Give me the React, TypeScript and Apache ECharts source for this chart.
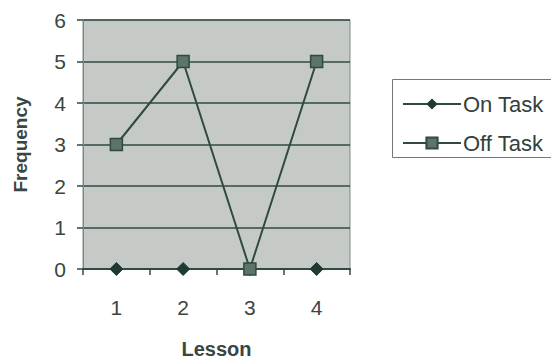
import React, { useEffect, useRef } from "react";
import * as echarts from "echarts";

const lessons = ["1", "2", "3", "4"];
const onTask = [0, 0, 0, 0];
const offTask = [3, 5, 0, 5];
const seriesNames = ["On Task", "Off Task"];

export default function App() {
  const ref = useRef<HTMLDivElement>(null);
  useEffect(() => {
    const chart = echarts.init(ref.current!, null, { renderer: "svg" });
    const dark = "#2f4a41";
    const font = "Liberation Sans, Arial, sans-serif";
    chart.setOption({
      animation: false,
      backgroundColor: "#ffffff",
      grid: { left: 83, top: 20, width: 267, height: 249, containLabel: false, outerBoundsMode: "none", show: true, backgroundColor: "#c6cac7", borderColor: "#7d8a84", borderWidth: 1 } as any,
      xAxis: {
        type: "category",
        data: lessons,
        boundaryGap: true,
        name: "Lesson",
        nameLocation: "middle",
        nameGap: 70,
        nameTextStyle: { fontFamily: font, fontSize: 20, fontWeight: "bold", color: "#3a4642", letterSpacing: 2 } as any,
        axisLine: { lineStyle: { color: dark, width: 2 } },
        axisTick: { show: true, inside: false, length: 6, lineStyle: { color: dark, width: 1.5 } },
        axisLabel: { fontFamily: font, fontSize: 21, color: "#3a4642", margin: 28 },
        splitLine: { show: false },
      },
      yAxis: {
        type: "value",
        min: 0,
        max: 6,
        interval: 1,
        name: "Frequency",
        nameLocation: "middle",
        nameGap: 53,
        nameRotate: 90,
        nameTextStyle: { fontFamily: font, fontSize: 19, fontWeight: "bold", color: "#3a4642" },
        axisLine: { show: true, lineStyle: { color: "#7d8a84", width: 1 } },
        axisTick: { show: true, inside: false, length: 6, lineStyle: { color: dark, width: 1.5 } },
        axisLabel: { fontFamily: font, fontSize: 21, color: "#3a4642", margin: 17 },
        splitLine: { show: true, lineStyle: { color: dark, width: 1.5 } },
      },
      legend: {
        orient: "vertical",
        left: 397,
        top: 88,
        itemWidth: 58,
        itemHeight: 14,
        itemGap: 17,
        textStyle: { fontFamily: font, fontSize: 22, color: "#33403b", padding: [0, 0, 0, -3] },
        data: seriesNames,
      },
      graphic: [
        { type: "rect", left: 390, top: 77, shape: { width: 170, height: 78 }, style: { fill: "none", stroke: "#6f7a75", lineWidth: 1 }, silent: true },
      ],
      series: [
        {
          name: seriesNames[0],
          type: "line",
          data: onTask,
          symbol: "diamond",
          symbolSize: 13,
          lineStyle: { color: dark, width: 2 },
          itemStyle: { color: "#1f3a30", borderColor: "#1f3a30" },
          z: 3,
        },
        {
          name: seriesNames[1],
          type: "line",
          data: offTask,
          symbol: "rect",
          symbolSize: 12,
          lineStyle: { color: dark, width: 2 },
          itemStyle: { color: "#5d7569", borderColor: "#2f4a41", borderWidth: 1.5 },
          z: 4,
        },
      ],
    });
    return () => chart.dispose();
  }, []);
  return <div ref={ref} style={{ width: 551, height: 360, position: "absolute", left: 0, top: 0 }} />;
}
